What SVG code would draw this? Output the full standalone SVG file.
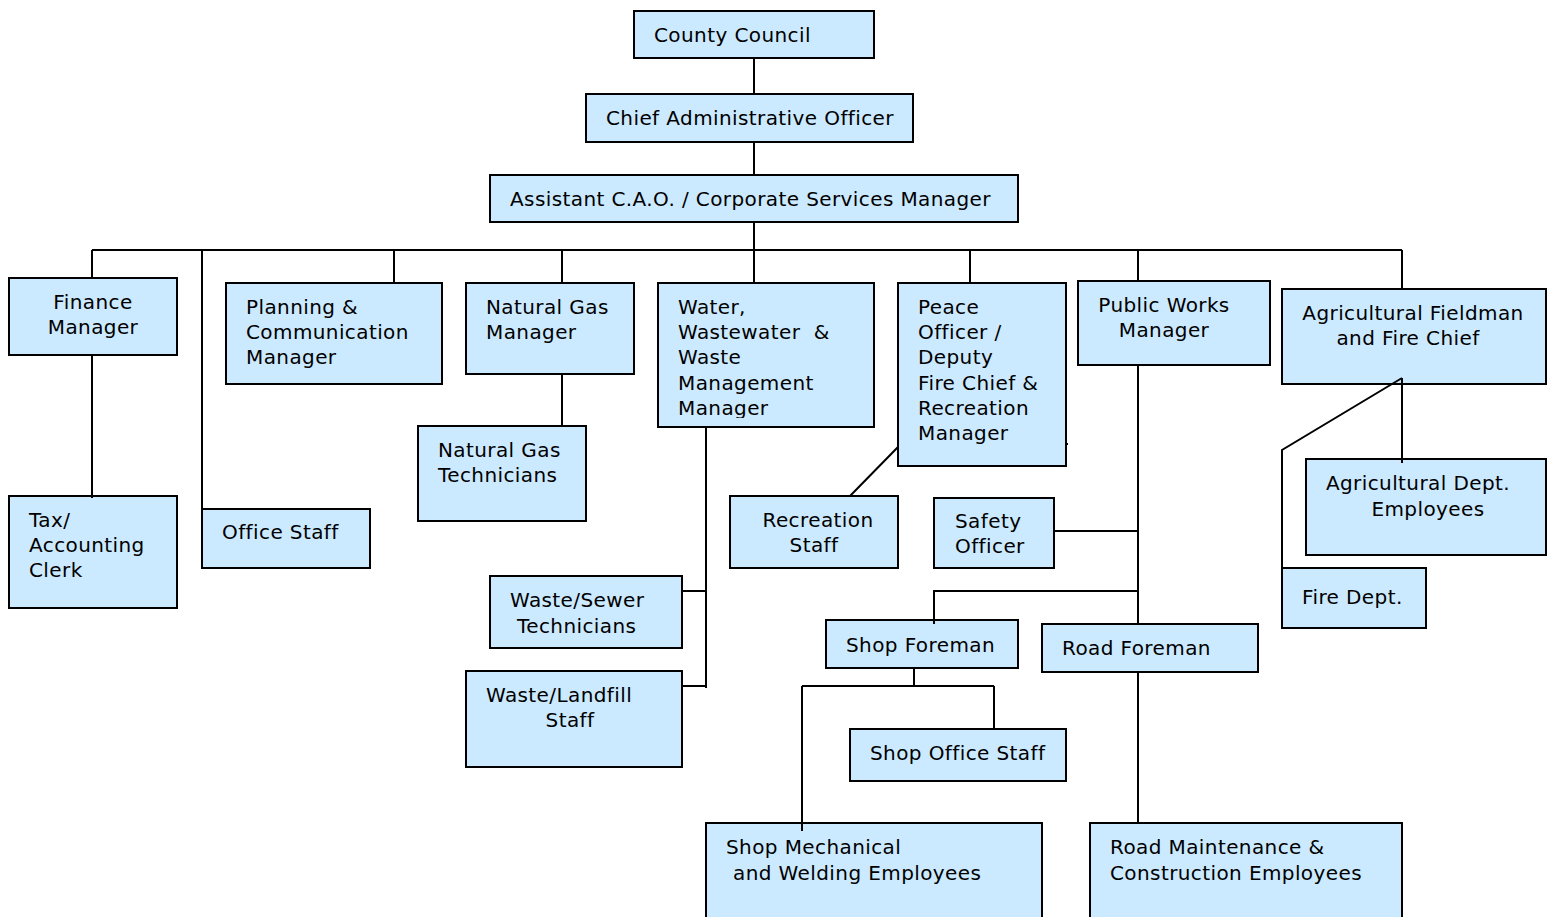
<svg xmlns="http://www.w3.org/2000/svg" width="1553" height="917" viewBox="0 0 1553 917">
<style>
.box{fill:#cceaff;stroke:#000;stroke-width:2}
.t{font-family:"DejaVu Sans","Liberation Sans",sans-serif;font-size:20px;letter-spacing:0.4px;fill:#000}
.c{text-anchor:middle}
.ln{stroke:#000;stroke-width:2;fill:none}
</style>
<defs>
<clipPath id="clipW"><rect x="658" y="283" width="216" height="135"/></clipPath>
</defs>
<rect width="1553" height="917" fill="#fff"/>
<g id="county-council"><rect class="box" x="634" y="11" width="240" height="47"/><text class="t" x="654" y="42">County Council</text></g>
<g id="cao"><rect class="box" x="586" y="94" width="327" height="48"/><text class="t" x="606" y="125">Chief Administrative Officer</text></g>
<g id="assistant-cao"><rect class="box" x="490" y="175" width="528" height="47"/><text class="t" x="510" y="206">Assistant C.A.O. / Corporate Services Manager</text></g>
<g id="finance"><rect class="box" x="9" y="278" width="168" height="77"/><text class="t c" x="93" y="309">Finance</text><text class="t c" x="93" y="334">Manager</text></g>
<g id="tax"><rect class="box" x="9" y="496" width="168" height="112"/><text class="t" x="29" y="527">Tax/</text><text class="t" x="29" y="552">Accounting</text><text class="t" x="29" y="577">Clerk</text></g>
<g id="office-staff"><rect class="box" x="202" y="509" width="168" height="59"/><text class="t" x="222" y="539">Office Staff</text></g>
<g id="planning"><rect class="box" x="226" y="283" width="216" height="101"/><text class="t" x="246" y="314">Planning &amp;</text><text class="t" x="246" y="339">Communication</text><text class="t" x="246" y="364">Manager</text></g>
<g id="natural-gas-manager"><rect class="box" x="466" y="283" width="168" height="91"/><text class="t" x="486" y="314">Natural Gas</text><text class="t" x="486" y="339">Manager</text></g>
<g id="natural-gas-tech"><rect class="box" x="418" y="426" width="168" height="95"/><text class="t" x="438" y="457">Natural Gas</text><text class="t" x="438" y="482">Technicians</text></g>
<g id="water"><rect class="box" x="658" y="283" width="216" height="144"/><g clip-path="url(#clipW)"><text class="t" x="678" y="314">Water,</text><text class="t" x="678" y="339" xml:space="preserve">Wastewater  &amp;</text><text class="t" x="678" y="364">Waste</text><text class="t" x="678" y="390">Management</text><text class="t" x="678" y="415">Manager</text></g></g>
<g id="peace-officer"><rect class="box" x="898" y="283" width="168" height="183"/><text class="t" x="918" y="314">Peace</text><text class="t" x="918" y="339">Officer /</text><text class="t" x="918" y="364">Deputy</text><text class="t" x="918" y="390">Fire Chief &amp;</text><text class="t" x="918" y="415">Recreation</text><text class="t" x="918" y="440">Manager</text></g>
<g id="public-works"><rect class="box" x="1078" y="281" width="192" height="84"/><text class="t c" x="1164" y="312">Public Works</text><text class="t c" x="1164" y="337">Manager</text></g>
<g id="ag-fieldman"><rect class="box" x="1282" y="289" width="264" height="95"/><text class="t c" x="1413" y="320">Agricultural Fieldman</text><text class="t c" x="1408" y="345">and Fire Chief</text></g>
<g id="ag-employees"><rect class="box" x="1306" y="459" width="240" height="96"/><text class="t c" x="1418" y="490">Agricultural Dept.</text><text class="t c" x="1428" y="516">Employees</text></g>
<g id="fire-dept"><rect class="box" x="1282" y="568" width="144" height="60"/><text class="t" x="1302" y="604">Fire Dept.</text></g>
<g id="recreation-staff"><rect class="box" x="730" y="496" width="168" height="72"/><text class="t c" x="818" y="527">Recreation</text><text class="t c" x="814" y="552">Staff</text></g>
<g id="safety-officer"><rect class="box" x="934" y="498" width="120" height="70"/><text class="t" x="955" y="528">Safety</text><text class="t" x="955" y="553">Officer</text></g>
<g id="waste-sewer"><rect class="box" x="490" y="576" width="192" height="72"/><text class="t" x="510" y="607">Waste/Sewer</text><text class="t" x="517" y="633">Technicians</text></g>
<g id="waste-landfill"><rect class="box" x="466" y="671" width="216" height="96"/><text class="t" x="486" y="702">Waste/Landfill</text><text class="t c" x="570" y="727">Staff</text></g>
<g id="shop-foreman"><rect class="box" x="826" y="620" width="192" height="48"/><text class="t" x="846" y="652">Shop Foreman</text></g>
<g id="road-foreman"><rect class="box" x="1042" y="624" width="216" height="48"/><text class="t" x="1062" y="655">Road Foreman</text></g>
<g id="shop-office-staff"><rect class="box" x="850" y="729" width="216" height="52"/><text class="t" x="870" y="760">Shop Office Staff</text></g>
<g id="shop-mechanical"><rect class="box" x="706" y="823" width="336" height="110"/><text class="t" x="726" y="854">Shop Mechanical</text><text class="t" x="733" y="880">and Welding Employees</text></g>
<g id="road-maintenance"><rect class="box" x="1090" y="823" width="312" height="110"/><text class="t" x="1110" y="854">Road Maintenance &amp;</text><text class="t" x="1110" y="880">Construction Employees</text></g>
<g id="connectors">
<path class="ln" d="M754 58V94M754 142V175M754 222V250M92 250H1402"/>
<path class="ln" d="M92 250V278M202 250V509M394 250V283M562 250V283M754 250V283M970 250V283M1138 250V281M1402 250V289"/>
<path class="ln" d="M92 355V498"/>
<path class="ln" d="M562 374V426"/>
<path class="ln" d="M706 427V688M682 591H706M682 686H706"/>
<path class="ln" d="M898 447L850 496M1066 444H1068"/>
<path class="ln" d="M1138 365V624M1054 531H1138M1138 591H934V624"/>
<path class="ln" d="M1138 672V823"/>
<path class="ln" d="M914 668V686M802 686H994M802 686V831M994 686V729"/>
<path class="ln" d="M1402 378V463M1402 378L1282 450V568"/>
</g>
</svg>
